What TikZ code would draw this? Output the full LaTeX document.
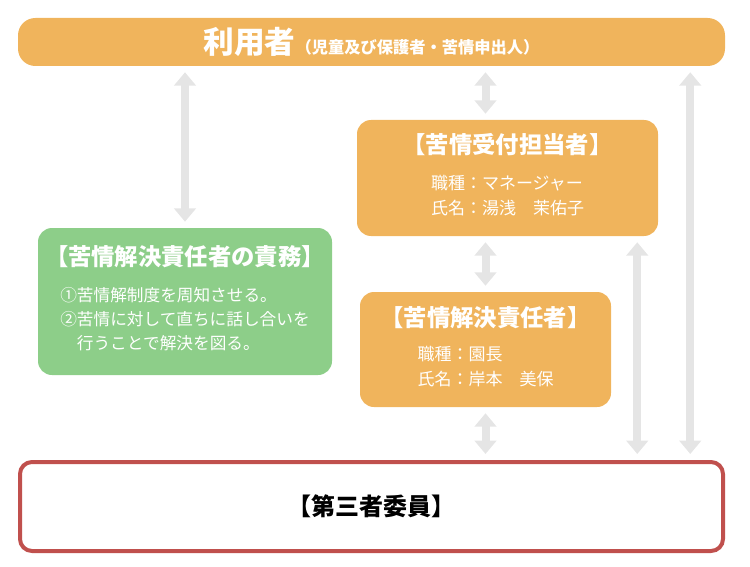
\documentclass[tikz,border=0pt]{standalone}
\usepackage{fontspec}
\setmainfont{Noto Sans CJK JP}
\usetikzlibrary{arrows.meta,positioning}
\definecolor{boxorange}{RGB}{240,180,92}
\definecolor{boxgreen}{RGB}{141,206,137}
\definecolor{thirdred}{RGB}{192,80,77}
\definecolor{linkgray}{RGB}{229,229,229}
\begin{document}
\begin{tikzpicture}[x=0.75pt, y=-0.75pt, >={Triangle[length=10pt,width=16pt]}]
      % Styles
      \tikzstyle{block} = [rectangle, fill=boxorange, text=white, align=center, 
                          rounded corners=10.5pt, inner sep=0pt, font=\fontsize{12.75pt}{18.75pt}\selectfont]
      \tikzstyle{duty} = [block, fill=boxgreen, font=\fontsize{12.5pt}{18pt}\selectfont]
      \tikzstyle{link} = [<->, draw=linkgray, line width=6pt, shorten <=4.5pt, shorten >=4.5pt]
      \newcommand{\headfont}{\fontsize{17.5pt}{20pt}\selectfont\bfseries}
      \useasboundingbox (0,0) rectangle (750,567);
      % Nodes
      \node[block, rounded corners=13pt, minimum width=530.25pt, minimum height=36pt] (user) at (371.5,42)
        {{\fontsize{23pt}{26pt}\selectfont\bfseries 利用者}{\fontsize{12.2pt}{14pt}\selectfont\bfseries （児童及び保護者・苦情申出人）}};
      \node[block, minimum width=225.75pt, minimum height=87pt] (recv) at (507.5,178)
        {{\headfont 【苦情受付担当者】}\\[8pt]
         \begin{tabular}[t]{@{}l@{}}職種：マネージャー\\氏名：湯浅　茉佑子\end{tabular}};
      \node[block, minimum width=188.25pt, minimum height=86.25pt] (resp) at (485.5,349.5)
        {{\headfont 【苦情解決責任者】}\\[7pt]
         \begin{tabular}[t]{@{}l@{}}職種：園長\\氏名：岸本　美保\end{tabular}};
      \node[duty, minimum width=220.5pt, minimum height=110.25pt] (duties) at (185,301.5)
        {{\headfont 【苦情解決責任者の責務】}\\[9pt]
         \begin{tabular}[t]{@{}l@{}}①苦情解制度を周知させる。\\②苦情に対して直ちに話し合いを\\\quad 行うことで解決を図る。\end{tabular}};
      \node[rectangle, draw=thirdred, line width=3pt, fill=white, rounded corners=9pt,
            minimum width=527.25pt, minimum height=66.75pt] (third) at (371.5,506.5)
        {\fontsize{18pt}{20pt}\selectfont\bfseries 【第三者委員】};
      \coordinate (recvtap) at ([xshift=-15.75pt]recv.south east);
      \coordinate (usertap) at ([xshift=-26.25pt]user.south east);
      
      % Arrows
      \draw[link] (duties.north |- user.south) -- (duties.north);
      \draw[link] (resp.north |- user.south) -- (resp.north |- recv.north);
      \draw[link] (resp.north |- recv.south) -- (resp.north);
      \draw[link] (resp.south) -- (resp.south |- third.north);
      \draw[link] (recvtap) -- (recvtap |- third.north);
      \draw[link] (usertap) -- (usertap |- third.north);
  \end{tikzpicture}
\end{document}
